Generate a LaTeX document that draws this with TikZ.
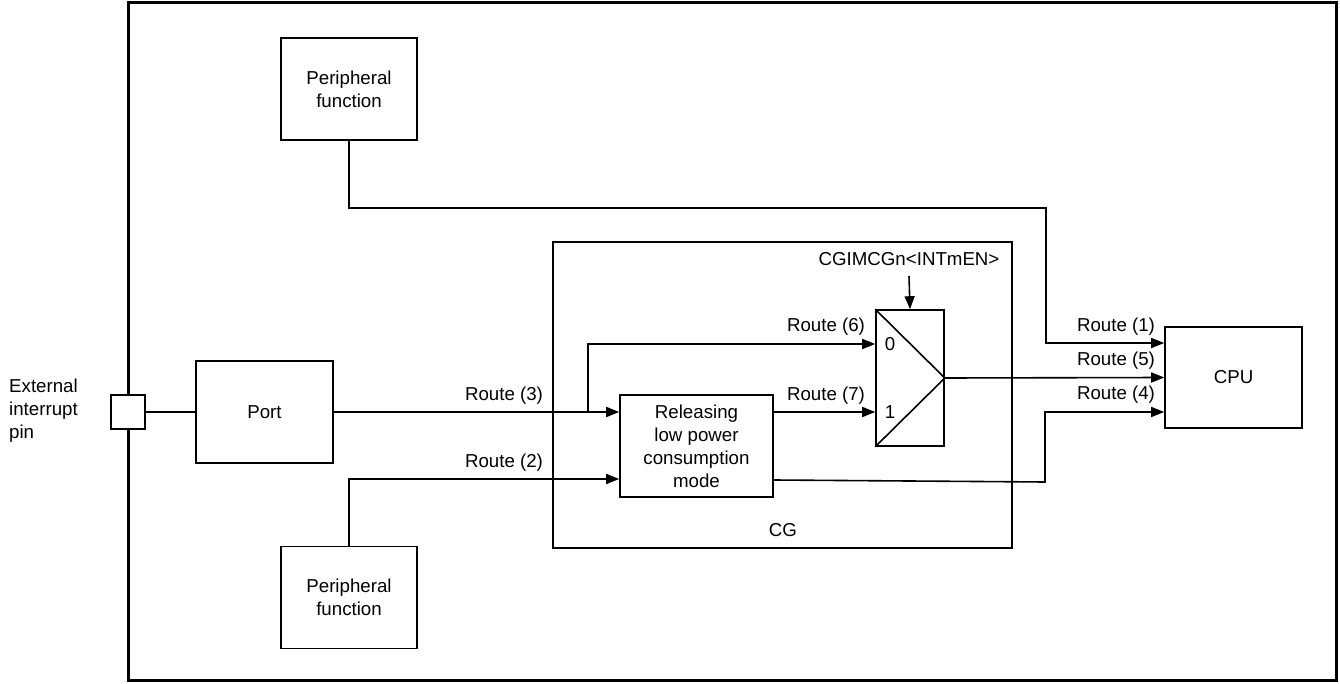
\documentclass[tikz,border=0pt]{standalone}
\usepackage{fontspec}
\setmainfont{Liberation Sans}
\usetikzlibrary{arrows.meta,calc}
\begin{document}
\begin{tikzpicture}[x=1pt,y=-1pt,
  font=\fontsize{18.7}{23}\selectfont,
  box/.style={draw,line width=1.6pt,rectangle,inner sep=0pt,align=center},
  wire/.style={line width=1.6pt},
  arr/.style={line width=1.6pt,-{Triangle[length=13pt,width=10pt]}},
  lbl/.style={inner sep=0pt}]
\useasboundingbox (0,0) rectangle (1340,684);
\fill[white] (0,0) rectangle (1340,684);
% outer frame
\node[draw,line width=3pt,minimum width=1208,minimum height=677,inner sep=0pt] (frame) at (732,341.5) {};
% boxes
\node[box,minimum width=136,minimum height=102] (pf1) at (349,89) {Peripheral\\function};
\node[box,minimum width=136,minimum height=102] (pf2) at (349,597.5) {Peripheral\\function};
\node[box,minimum width=137,minimum height=102] (port) at (264.5,412) {Port};
\node[box,minimum width=137,minimum height=101] (cpu) at (1233.5,377.5) {CPU};
\node[box,minimum width=459,minimum height=306] (cg) at (782.5,395) {};
\node[lbl] (cglbl) at (783,530) {CG};
\node[box,minimum width=153,minimum height=102] (rel) at (696.5,446) {Releasing\\low power\\consumption\\mode};
\node[box,minimum width=68,minimum height=136] (mux) at (910,378) {};
\draw[wire] (mux.north west) -- (mux.east) -- (mux.south west);
\node[box,fill=white,minimum width=34,minimum height=34] (pin) at (128,412) {};
% labels
\node[lbl,anchor=west,align=left] (ext) at (9,411) {External\\interrupt\\pin};
\node[lbl] (sel) at (909,259) {CGIMCGn<INTmEN>};
\node[lbl] at (890,344) {0};
\node[lbl] at (890,412) {1};
\node[lbl] at (826,327) {Route (6)};
\node[lbl] at (826,396) {Route (7)};
\node[lbl] at (504,396) {Route (3)};
\node[lbl] at (504,463) {Route (2)};
\node[lbl] at (1116,327) {Route (1)};
\node[lbl] at (1116,361) {Route (5)};
\node[lbl] at (1116,395) {Route (4)};
% coordinates
\coordinate (c1) at ([yshift=34.5pt]cpu.west);
\coordinate (c4) at ([yshift=-34.5pt]cpu.west);
\coordinate (m0) at ([yshift=34pt]mux.west);
\coordinate (m1) at ([yshift=-34pt]mux.west);
\coordinate (r2) at ([yshift=-33pt]rel.west);
\coordinate (b6) at (588,412);
\coordinate (t1) at (1046,208);
\coordinate (o4) at ([yshift=-34pt]rel.east);
\coordinate (k4) at (1045,482);
\coordinate (s0) at (909,276);
% connectors
\draw[wire] (pin.east) -- (port.west);
\draw[arr] (pf1.south) |- (t1) |- (c1);
\draw[arr] (port.east) -- (rel.west |- port.east);
\draw[arr] (b6) |- (m0);
\draw[arr] (rel.east |- m1) -- (m1);
\draw[arr] (pf2.north) |- (r2);
\draw[arr] (mux.east) -- (cpu.west);
\draw[arr] (o4) -- (k4) |- (c4);
\draw[arr] (s0) -- (mux.north);
\end{tikzpicture}
\end{document}
